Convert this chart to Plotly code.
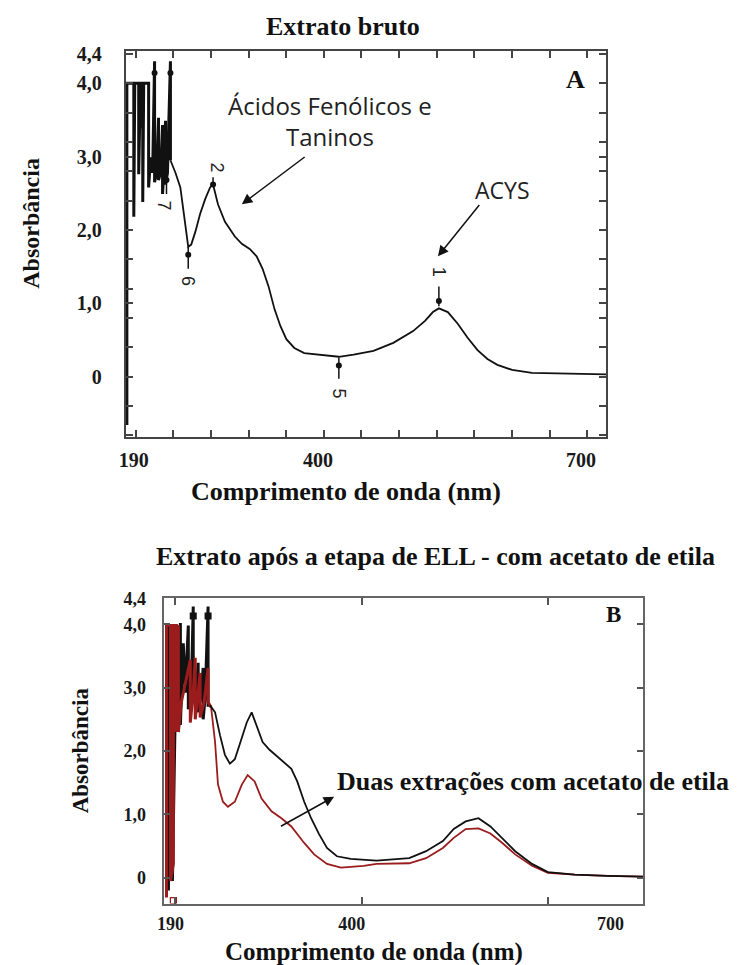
import plotly.graph_objects as go

# ---------------- Panel A : Extrato bruto ----------------
a_noise_nm = [182.1, 182.1, 190.0, 190.0, 191.1, 195.6, 195.6, 196.8, 197.9, 197.9, 200.2, 200.2,
              201.3, 206.9, 206.9, 209.2, 211.5, 213.7, 213.7, 216.0, 218.2, 218.2, 220.5, 222.8,
              222.8, 223.9, 226.2, 226.2, 228.4, 231.8, 231.8]
a_noise_abs = [-0.66, 4.00, 4.00, 2.18, 4.00, 4.00, 2.76, 3.53, 3.39, 4.00, 4.00, 2.38,
               4.00, 4.00, 2.58, 2.99, 2.78, 4.30, 2.65, 2.78, 3.53, 2.68, 2.78, 3.43,
               2.49, 2.72, 3.49, 2.62, 2.78, 4.30, 2.95]
a_nm = [231.8, 237.5, 243.1, 248.8, 252.1, 255.5, 260.1, 265.7, 271.4, 277.0, 280.4, 286.0, 294.0,
        305.3, 313.2, 322.2, 330.1, 336.9, 343.7, 350.5, 357.2, 364.0, 373.1, 384.4, 401.3,
        423.9, 440.8, 463.4, 486.0, 508.6, 522.2, 531.2, 538.0, 548.2, 559.5, 570.8, 582.1,
        593.4, 604.7, 621.6, 644.2, 683.8, 729.0]
a_abs = [2.95, 2.78, 2.58, 2.04, 1.77, 1.80, 1.97, 2.22, 2.42, 2.58, 2.62, 2.35, 2.11,
         1.91, 1.81, 1.74, 1.64, 1.47, 1.23, 0.92, 0.69, 0.51, 0.39, 0.32, 0.30,
         0.27, 0.30, 0.35, 0.46, 0.62, 0.76, 0.88, 0.93, 0.88, 0.72, 0.53, 0.36,
         0.24, 0.16, 0.09, 0.05, 0.04, 0.03]

# numbered peak / valley markers
a_mark_label = ["1", "2", "5", "6", "7"]
a_mark_nm = [538.0, 280.4, 423.9, 252.1, 227.3]
a_mark_from = [1.23, 2.72, 0.26, 1.77, 2.78]
a_mark_to = [0.96, 2.62, -0.03, 1.47, 2.49]
a_mark_dot = [1.03, 2.62, 0.15, 1.66, 2.68]
a_label_nm = [538.0, 285.0, 423.9, 252.1, 223.9]
a_label_abs = [1.43, 2.85, -0.23, 1.30, 2.34]
a_spike_nm = [213.7, 231.8]
a_spike_abs = [4.14, 4.14]

# ---------------- Panel B : após ELL ----------------
b_black_noise_nm = [187.7, 187.7, 192.3, 192.3, 195.7, 198.0, 198.0, 201.5, 201.5, 204.9, 207.2,
                    210.7, 210.7, 214.1, 216.4, 216.4, 219.9, 222.1, 222.1, 225.6, 227.9, 227.9,
                    230.2, 233.6, 233.6, 235.9]
b_black_noise_abs = [-0.20, 3.98, 3.98, -0.05, 2.77, 3.98, 2.34, 4.02, 2.41, 3.70, 2.92,
                     3.98, 2.66, 2.92, 4.28, 2.77, 2.92, 3.39, 2.61, 2.92, 3.31, 2.50,
                     2.84, 4.28, 2.72, 2.72]
b_black_nm = [235.9, 241.7, 247.4, 253.1, 258.9, 264.6, 270.4, 278.4, 284.1, 289.9, 296.8, 304.8,
              318.6, 330.1, 336.9, 345.0, 353.0, 362.2, 371.4, 382.9, 398.9, 428.8, 466.7, 486.2,
              505.7, 518.3, 532.1, 547.0, 560.8, 574.6, 589.5, 609.0, 627.4, 658.4, 696.3, 737.6]
b_black_abs = [2.72, 2.61, 2.25, 1.94, 1.80, 1.87, 2.11, 2.45, 2.61, 2.41, 2.14, 2.02,
               1.86, 1.72, 1.52, 1.20, 0.94, 0.69, 0.47, 0.34, 0.30, 0.27, 0.31, 0.42,
               0.58, 0.77, 0.89, 0.94, 0.81, 0.63, 0.42, 0.22, 0.09, 0.05, 0.03, 0.02]
b_red_noise_nm = [185.4, 185.4, 190.0, 190.0, 193.4, 193.4, 196.9, 196.9, 199.2, 199.2, 202.6,
                  207.2, 213.0, 213.0, 216.4, 218.7, 218.7, 222.1, 224.4, 224.4, 229.0, 233.6,
                  233.6, 237.1]
b_red_noise_abs = [-0.31, 3.98, 3.98, -0.05, 0.22, 3.98, 3.98, 2.30, 3.98, 2.30, 2.77,
                   3.08, 3.44, 2.45, 2.92, 3.47, 2.50, 2.92, 3.23, 2.53, 2.77, 3.31,
                   2.77, 2.69]
b_red_nm = [237.1, 241.7, 245.1, 250.8, 256.6, 264.6, 272.7, 279.5, 287.6, 295.6, 307.1, 318.6,
            330.1, 336.9, 345.0, 356.5, 371.4, 387.5, 413.9, 428.8, 466.7, 486.2, 505.7, 518.3,
            532.1, 547.0, 560.8, 574.6, 589.5, 609.0, 627.4, 658.4, 696.3, 737.6]
b_red_abs = [2.69, 2.14, 1.47, 1.20, 1.12, 1.20, 1.47, 1.62, 1.52, 1.25, 1.05, 0.94,
             0.81, 0.69, 0.55, 0.37, 0.22, 0.16, 0.19, 0.22, 0.23, 0.31, 0.47, 0.63,
             0.77, 0.78, 0.70, 0.55, 0.37, 0.19, 0.08, 0.05, 0.03, 0.02]
b_spike_nm = [216.4, 233.6]
b_spike_abs = [4.13, 4.13]

y_tickvals = [0, 1, 2, 3, 4, 4.4]
y_ticktext = ["0", "1,0", "2,0", "3,0", "4,0", "4,4"]
x_tickvals = [190, 400, 700]
x_ticktext = ["190", "400", "700"]

W, H = 746, 965
SERIF = "Liberation Serif"
BLACK = "#111111"
RED = "#9b1c1c"


def px(x):
    return x / W


def py(y):
    return 1 - y / H


fig = go.Figure()

# Panel A traces
fig.add_trace(go.Scatter(x=a_noise_nm, y=a_noise_abs, mode="lines",
                         line=dict(color=BLACK, width=3), xaxis="x", yaxis="y", showlegend=False))
fig.add_trace(go.Scatter(x=a_nm, y=a_abs, mode="lines",
                         line=dict(color=BLACK, width=1.8), xaxis="x", yaxis="y", showlegend=False))
seg_x, seg_y = [], []
for n, f, t in zip(a_mark_nm, a_mark_from, a_mark_to):
    seg_x += [n, n, None]
    seg_y += [f, t, None]
fig.add_trace(go.Scatter(x=seg_x, y=seg_y, mode="lines", line=dict(color=BLACK, width=1.5),
                         xaxis="x", yaxis="y", showlegend=False))
fig.add_trace(go.Scatter(x=a_mark_nm + a_spike_nm, y=a_mark_dot + a_spike_abs, mode="markers",
                         marker=dict(color=BLACK, size=6), xaxis="x", yaxis="y", showlegend=False))

# Panel B traces
fig.add_trace(go.Scatter(x=b_black_noise_nm, y=b_black_noise_abs, mode="lines",
                         line=dict(color=BLACK, width=3), xaxis="x2", yaxis="y2", showlegend=False))
fig.add_trace(go.Scatter(x=b_red_noise_nm, y=b_red_noise_abs, mode="lines",
                         line=dict(color=RED, width=3), xaxis="x2", yaxis="y2", showlegend=False))
fig.add_trace(go.Scatter(x=b_red_nm, y=b_red_abs, mode="lines",
                         line=dict(color=RED, width=1.8), xaxis="x2", yaxis="y2", showlegend=False))
fig.add_trace(go.Scatter(x=b_black_nm, y=b_black_abs, mode="lines",
                         line=dict(color=BLACK, width=1.8), xaxis="x2", yaxis="y2", showlegend=False))
fig.add_trace(go.Scatter(x=b_spike_nm, y=b_spike_abs, mode="markers",
                         marker=dict(color=BLACK, size=7, symbol="square"),
                         xaxis="x2", yaxis="y2", showlegend=False))
fig.add_trace(go.Scatter(x=[193.4], y=[-0.36], mode="markers",
                         marker=dict(color="white", size=6, symbol="square",
                                     line=dict(color=RED, width=1.2)),
                         xaxis="x2", yaxis="y2", showlegend=False))

tickfont_a = dict(family=SERIF, size=20, color="#1a1a1a", weight="bold")
tickfont_b = dict(family=SERIF, size=18, color="#1a1a1a", weight="bold")

fig.update_layout(
    width=W, height=H, margin=dict(l=0, r=0, t=0, b=0),
    paper_bgcolor="white", plot_bgcolor="white", showlegend=False,
    xaxis=dict(domain=[px(120), px(605)], range=[180.96, 729.0], anchor="y",
               tickmode="array", tickvals=x_tickvals, ticktext=x_ticktext,
               ticks="inside", ticklen=0, tickfont=tickfont_a, ticklabelstandoff=4,
               minor=dict(ticks="inside", ticklen=7, tick0=192.3, dtick=42.9,
                          tickcolor="#444", tickwidth=1.5),
               showline=True, linecolor="#444", linewidth=2, mirror="ticks",
               showgrid=False, zeroline=False),
    yaxis=dict(domain=[py(432), py(42)], range=[-0.824, 4.446], anchor="x",
               tickmode="array", tickvals=y_tickvals, ticktext=y_ticktext,
               ticks="inside", ticklen=7, tickcolor="#444", tickwidth=1.5,
               tickfont=tickfont_a, ticklabelstandoff=18,
               minor=dict(ticks="inside", ticklen=7, tick0=0, dtick=0.4,
                          tickcolor="#444", tickwidth=1.5),
               showline=True, linecolor="#444", linewidth=2, mirror="ticks",
               showgrid=False, zeroline=False),
    xaxis2=dict(domain=[px(158), px(642)], range=[181.96, 737.6], anchor="y2",
                tickmode="array", tickvals=x_tickvals, ticktext=x_ticktext,
                ticks="inside", ticklen=0, tickfont=tickfont_b, ticklabelstandoff=3,
                minor=dict(ticks="inside", ticklen=7, tick0=195.8, dtick=215.8,
                           tickcolor="#555", tickwidth=1.5),
                showline=True, linecolor="#666", linewidth=2, mirror="ticks",
                showgrid=False, zeroline=False),
    yaxis2=dict(domain=[py(903), py(595)], range=[-0.406, 4.406], anchor="x2",
                tickmode="array", tickvals=y_tickvals, ticktext=y_ticktext,
                ticks="inside", ticklen=6, tickcolor="#555", tickwidth=1.5,
                tickfont=tickfont_b, ticklabelstandoff=12,
                showline=True, linecolor="#666", linewidth=2, mirror="ticks",
                showgrid=False, zeroline=False),
)

ann = []


def ptext(x, y, text, size, angle=0, family=SERIF, bold=True, xanchor="center", color="#111"):
    ann.append(dict(xref="paper", yref="paper", x=px(x), y=py(y), text=text, showarrow=False,
                    textangle=angle, xanchor=xanchor, yanchor="middle",
                    font=dict(family=family, size=size, color=color,
                              weight="bold" if bold else "normal")))


ptext(339, 18, "Extrato bruto", 26)
ptext(24, 216, "Absorbância", 24, angle=-90)
ptext(342, 487, "Comprimento de onda (nm)", 26)
ptext(574, 71, "A", 26)
ptext(433, 553, "Extrato após a etapa de ELL - com acetato de etila", 26)
ptext(74, 748, "Absorbância", 23, angle=-90)
ptext(370, 952, "Comprimento de onda (nm)", 25)
ptext(612, 611, "B", 23)
ptext(331, 780, "Duas extrações com acetato de etila", 26, xanchor="left")
ptext(326, 113, "Ácidos Fenólicos e<br>Taninos", 24, family="Open Sans", bold=False, color="#222")
ptext(500, 183, "ACYS", 23, family="Open Sans", bold=False, color="#222")


def arrow(xr, yr, hx, hy, tx, ty):
    ann.append(dict(xref=xr, yref=yr, axref=xr, ayref=yr, x=hx, y=hy, ax=tx, ay=ty, text="",
                    showarrow=True, arrowhead=2, arrowsize=1.4, arrowwidth=1.5, arrowcolor="#111"))


arrow("x", "y", 313.2, 2.35, 386.6, 3.01)
arrow("x", "y", 536.9, 1.64, 585.5, 2.36)
arrow("x2", "y2", 379.7, 1.28, 316.3, 0.80)

for lab, n, a in zip(a_mark_label, a_label_nm, a_label_abs):
    ann.append(dict(xref="x", yref="y", x=n, y=a, text=lab, showarrow=False, textangle=90,
                    font=dict(family="Liberation Sans", size=18, color="#222")))

fig.update_layout(annotations=ann)
fig.write_html("out.html", post_script="document.body.style.margin='0px';")
